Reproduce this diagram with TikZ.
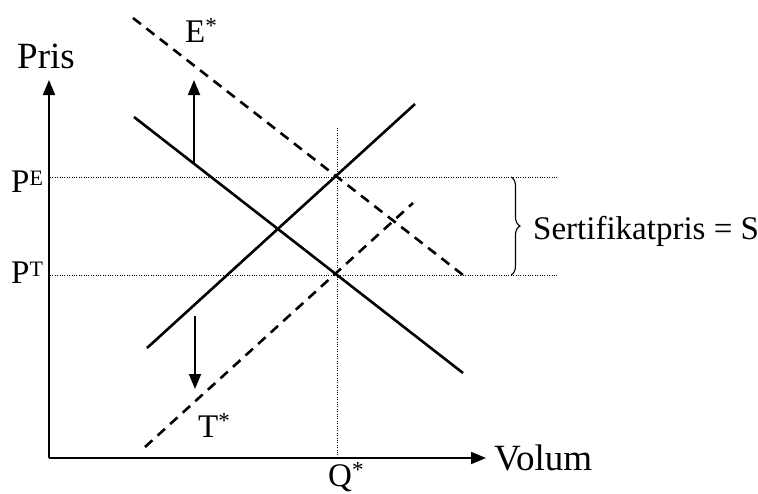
\documentclass[tikz,border=0pt]{standalone}
\usepackage{fontspec}
\setmainfont{Liberation Serif}
\usetikzlibrary{arrows.meta,decorations.pathreplacing}
\begin{document}
\begin{tikzpicture}[x=1pt,y=-1pt,
  curve/.style={line width=2.6pt},
  shifted/.style={line width=2.6pt, dash pattern=on 10pt off 7pt},
  axis/.style={line width=1.8pt,-{Triangle[length=15pt,width=12pt]}},
  shiftarrow/.style={line width=1.8pt,-{Triangle[length=15pt,width=12pt]}},
  guide/.style={line width=0.9pt, dash pattern=on 1pt off 1.4pt},
  lab/.style={inner sep=0pt, anchor=base west, font=\fontsize{33}{36}\selectfont},
  biglab/.style={inner sep=0pt, anchor=base west, font=\fontsize{37}{40}\selectfont}]
\newcommand{\supstar}{\raisebox{9pt}{\fontsize{23}{23}\selectfont *}}
\newcommand{\suplet}[1]{\raisebox{7pt}{\fontsize{22}{22}\selectfont #1}}
\useasboundingbox (0,0) rectangle (758,493);
% axes
\coordinate (O) at (49,458);
\coordinate (ytip) at (49,80);
\coordinate (xtip) at (486,458);
\draw[axis] (O) -- (ytip);
\draw[axis] (O) -- (xtip);
% guides
\coordinate (PE0) at (50,177);
\coordinate (PE1) at (558,177);
\coordinate (PT0) at (50,275);
\coordinate (PT1) at (558,275);
\coordinate (Q0) at (337,128);
\coordinate (Q1) at (337,458);
\draw[guide] (PE0) -- (PE1);
\draw[guide] (PT0) -- (PT1);
\draw[guide] (Q0) -- (Q1);
% curves
\coordinate (D0) at (134,117);
\coordinate (D1) at (463,373);
\coordinate (S0) at (147,348);
\coordinate (S1) at (415,104);
\coordinate (E0) at (133,18);
\coordinate (E1) at (463,275);
\coordinate (T0) at (145,447);
\coordinate (T1) at (413,203);
\draw[curve] (D0) -- (D1);
\draw[curve] (S0) -- (S1);
\draw[shifted] (E0) -- (E1);
\draw[shifted] (T0) -- (T1);
% shift arrows
\coordinate (U0) at (194,163);
\coordinate (U1) at (194,80);
\coordinate (W0) at (195,316);
\coordinate (W1) at (195,389);
\draw[shiftarrow] (U0) -- (U1);
\draw[shiftarrow] (W0) -- (W1);
% brace
\coordinate (B0) at (511,177);
\coordinate (B1) at (511,275);
\draw[line width=1.1pt, decorate, decoration={brace, amplitude=9pt}] (B0) -- (B1);
% labels
\node[biglab] (pris) at (17,68) {Pris};
\node[biglab] (volum) at (494,470) {Volum};
\node[lab] (estar) at (185,42) {E\supstar};
\node[lab] (pe) at (11,192) {P\suplet{E}};
\node[lab] (pt) at (11,283) {P\suplet{T}};
\node[lab] (tstar) at (198,437) {T\supstar};
\node[lab] (qstar) at (328,486) {Q\supstar};
\node[lab] (sert) at (533,239) {Sertifikatpris = S};
\end{tikzpicture}
\end{document}
